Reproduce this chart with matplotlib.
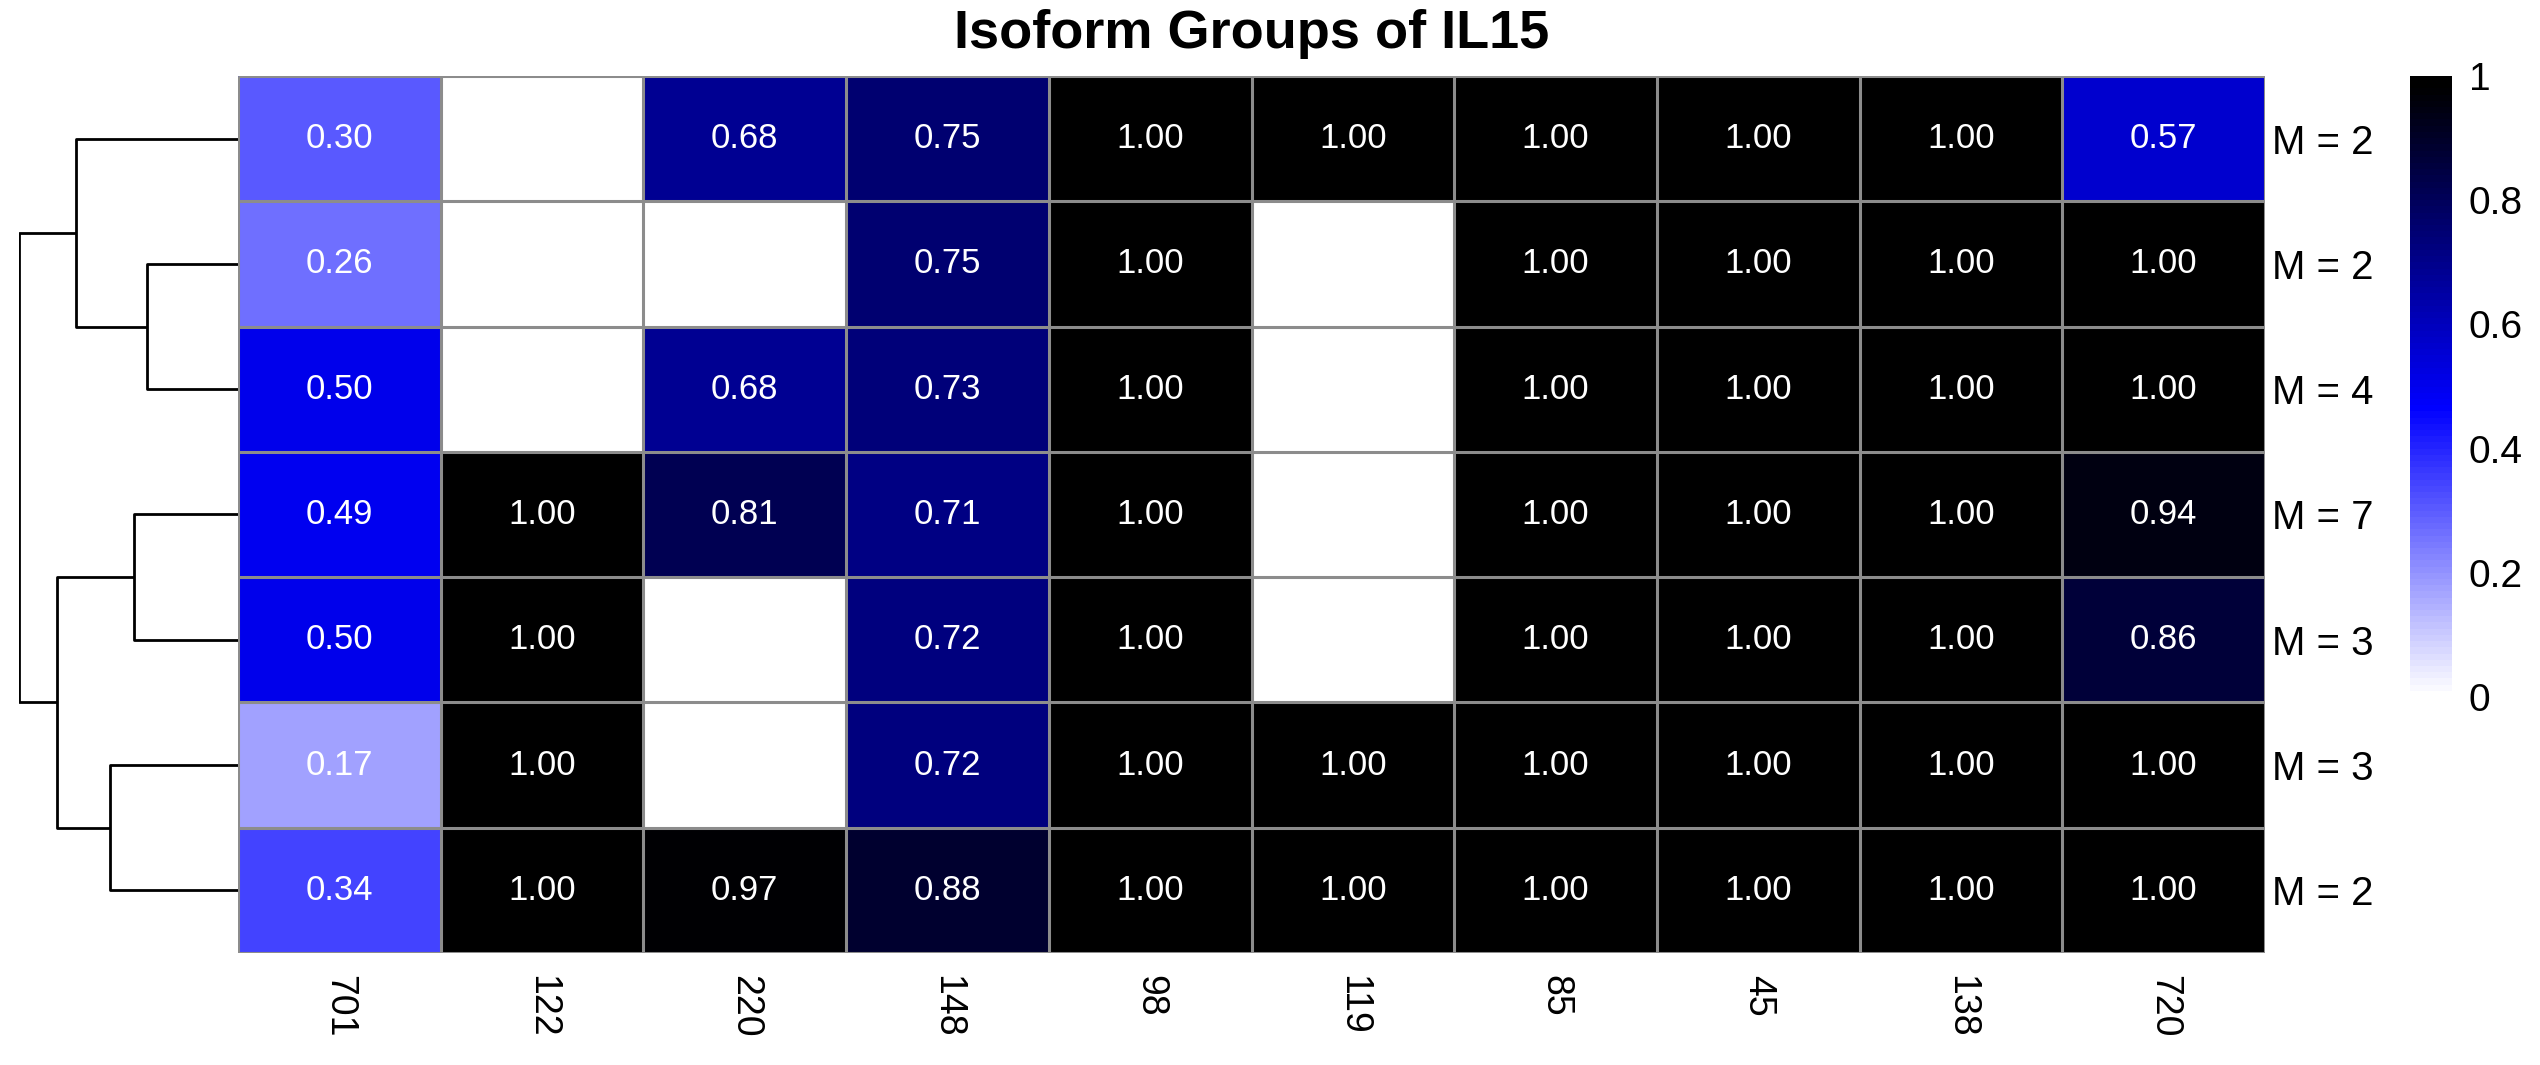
import numpy as np
import matplotlib.pyplot as plt
from matplotlib.colors import LinearSegmentedColormap

plt.rcParams['font.family'] = ['Liberation Sans', 'DejaVu Sans']

# Data
col_labels = ['701', '122', '220', '148', '98', '119', '85', '45', '138', '720']
row_labels = ['M = 2', 'M = 2', 'M = 4', 'M = 7', 'M = 3', 'M = 3', 'M = 2']
nan = np.nan
row1 = [0.30, nan, 0.68, 0.75, 1.00, 1.00, 1.00, 1.00, 1.00, 0.57]
row2 = [0.26, nan, nan, 0.75, 1.00, nan, 1.00, 1.00, 1.00, 1.00]
row3 = [0.50, nan, 0.68, 0.73, 1.00, nan, 1.00, 1.00, 1.00, 1.00]
row4 = [0.49, 1.00, 0.81, 0.71, 1.00, nan, 1.00, 1.00, 1.00, 0.94]
row5 = [0.50, 1.00, nan, 0.72, 1.00, nan, 1.00, 1.00, 1.00, 0.86]
row6 = [0.17, 1.00, nan, 0.72, 1.00, 1.00, 1.00, 1.00, 1.00, 1.00]
row7 = [0.34, 1.00, 0.97, 0.88, 1.00, 1.00, 1.00, 1.00, 1.00, 1.00]
values = np.array([row1, row2, row3, row4, row5, row6, row7])

# dendrogram merges: (child a, child b, height); new clusters numbered from 7
merges = [(1, 2, 91), (3, 4, 104), (5, 6, 128), (0, 7, 162), (8, 9, 181), (10, 11, 219)]

cmap = LinearSegmentedColormap.from_list(
    'wbk', [(0, 'white'), (0.465, 'blue'), (0.985, 'black'), (1, 'black')], N=100)
cmap.set_bad('white')

W, H = 2540, 1065
fig = plt.figure(figsize=(W / 100, H / 100), dpi=100)

hm_left, hm_right, hm_top, hm_bot = 238, 2265, 76, 953
ax = fig.add_axes([hm_left / W, 1 - hm_bot / H, (hm_right - hm_left) / W, (hm_bot - hm_top) / H])
nrow, ncol = values.shape
mesh = ax.pcolormesh(np.ma.masked_invalid(values), cmap=cmap, vmin=0, vmax=1)
ax.set_xlim(0, ncol)
ax.set_ylim(nrow, 0)
ax.hlines(np.arange(nrow + 1), 0, ncol, color='#8c8c8c', lw=2.2)
ax.vlines(np.arange(ncol + 1), 0, nrow, color='#8c8c8c', lw=2.2)
for s in ax.spines.values():
    s.set_visible(False)

for i in range(nrow):
    for j in range(ncol):
        v = values[i, j]
        if not np.isnan(v):
            ax.text(j + 0.5, i + 0.5, f'{v:.2f}', ha='center', va='center',
                    color='white', fontsize=25)

ax.set_xticks(np.arange(ncol) + 0.5)
ax.set_xticklabels(col_labels, rotation=-90, fontsize=27, va='top')
ax.set_yticks(np.arange(nrow) + 0.5)
ax.set_yticklabels(row_labels, fontsize=29)
ax.yaxis.tick_right()
ax.tick_params(length=0, axis='y', pad=5)
ax.tick_params(length=0, axis='x', pad=16)

# dendrogram
dax = fig.add_axes([19 / W, 1 - hm_bot / H, (hm_left - 19) / W, (hm_bot - hm_top) / H])
pos = {i: (i + 0.5, 0.0) for i in range(nrow)}
k = nrow
for a, b, h in merges:
    ya, ha = pos[a]
    yb, hb = pos[b]
    dax.plot([ha, h, h, hb], [ya, ya, yb, yb], color='black', lw=2, solid_capstyle='butt')
    pos[k] = ((ya + yb) / 2, h)
    k += 1
dax.set_xlim(merges[-1][2], 0)
dax.set_ylim(nrow, 0)
dax.axis('off')

# colorbar
cb_top, cb_bot = 76, 697
cax = fig.add_axes([2410 / W, 1 - cb_bot / H, 42 / W, (cb_bot - cb_top) / H])
cb = fig.colorbar(mesh, cax=cax, ticks=[0, 0.2, 0.4, 0.6, 0.8, 1])
cb.ax.set_yticklabels(['0', '0.2', '0.4', '0.6', '0.8', '1'], fontsize=28)
cb.ax.tick_params(length=0, pad=12)
cb.outline.set_visible(False)

fig.text((hm_left + hm_right) / 2 / W, 1 - 34 / H, 'Isoform Groups of IL15',
         ha='center', va='center', fontsize=39, fontweight='bold')

fig.savefig('out.png', dpi=100)
